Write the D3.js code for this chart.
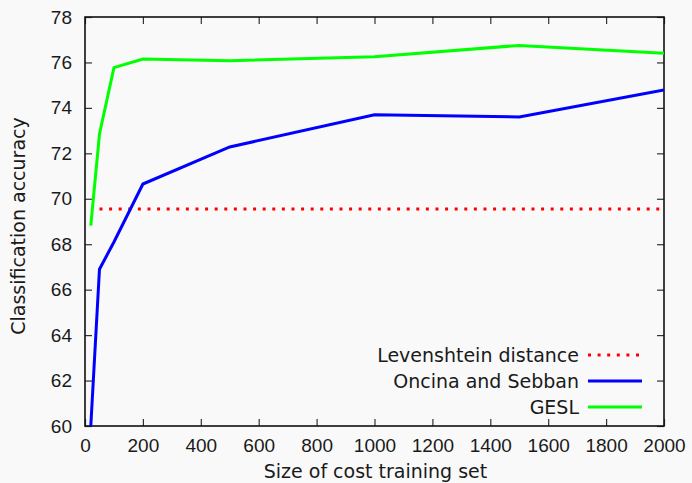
<!DOCTYPE html>
<html>
<head>
<meta charset="utf-8">
<script src="https://cdn.jsdelivr.net/npm/d3@7"></script>
<style>
body { margin:0; background:#f9f9f9; }
svg { display:block; font-family:"DejaVu Sans", sans-serif; }
</style>
</head>
<body>
<div id="chart"></div>
<script>
// Chart size
const W = 692, H = 483;
const margin = {top:17, right:28, bottom:57, left:85};
const width = W - margin.left - margin.right;
const height = H - margin.top - margin.bottom;
const fontSize = "19px";

// Data
const trainSizes = [20, 50, 100, 200, 500, 1000, 1500, 2000];
const gesl = [68.82, 72.85, 75.77, 76.15, 76.08, 76.25, 76.75, 76.40];
const oncina = [60.0, 66.9, 68.1, 70.65, 72.28, 73.70, 73.60, 74.79];
const levenX = [50, 2000];
const leven = [69.55, 69.55];

const xTicks = [0, 200, 400, 600, 800, 1000, 1200, 1400, 1600, 1800, 2000];
const yTicks = [60, 62, 64, 66, 68, 70, 72, 74, 76, 78];

const seriesNames = ["Levenshtein distance", "Oncina and Sebban", "GESL"];
const seriesColors = ["#ff0000", "#0000ff", "#00ff00"];

const svg = d3.select("#chart")
.append("svg")
.attr("width", W)
.attr("height", H);

svg.append("rect").attr("width", W).attr("height", H).attr("fill", "#f9f9f9");

const g = svg.append("g")
.attr("transform", `translate(${margin.left},${margin.top})`);

// scales
const x = d3.scaleLinear().domain([0, 2000]).range([0, width]);
const y = d3.scaleLinear().domain([60, 78]).range([height, 0]);

g.append("clipPath").attr("id", "clip")
.append("rect").attr("width", width).attr("height", height);

// axes (ticks inward, mirrored)
const tickLen = 7;
function styleAxis(sel){
  sel.select(".domain").remove();
  sel.selectAll(".tick line").attr("stroke", "#333").attr("stroke-width", 1.2);
  sel.selectAll(".tick text").attr("fill", "#1a1a1a").attr("font-size", fontSize);
}

g.append("g")
.attr("transform", `translate(0,${height})`)
.call(d3.axisBottom(x).tickValues(xTicks).tickFormat(d3.format("d")).tickSize(-tickLen).tickPadding(13))
.call(styleAxis);

g.append("g")
.call(d3.axisTop(x).tickValues(xTicks).tickSize(-tickLen).tickFormat(""))
.call(styleAxis);

g.append("g")
.call(d3.axisLeft(y).tickValues(yTicks).tickSize(-tickLen).tickPadding(13))
.call(styleAxis);

g.append("g")
.attr("transform", `translate(${width},0)`)
.call(d3.axisRight(y).tickValues(yTicks).tickSize(-tickLen).tickFormat(""))
.call(styleAxis);

// frame
g.append("rect")
.attr("width", width).attr("height", height)
.attr("fill", "none").attr("stroke", "#111").attr("stroke-width", 1.6);

// lines
const line = d3.line().x(d => x(d[0])).y(d => y(d[1]));
const plot = g.append("g").attr("clip-path", "url(#clip)");

plot.append("path")
.datum(d3.zip(levenX, leven))
.attr("d", line)
.attr("fill", "none")
.attr("stroke", seriesColors[0])
.attr("stroke-width", 3)
.attr("stroke-dasharray", "3,6.6");

plot.append("path")
.datum(d3.zip(trainSizes, oncina))
.attr("d", line)
.attr("fill", "none")
.attr("stroke", seriesColors[1])
.attr("stroke-width", 3);

plot.append("path")
.datum(d3.zip(trainSizes, gesl))
.attr("d", line)
.attr("fill", "none")
.attr("stroke", seriesColors[2])
.attr("stroke-width", 3);

// legend
const legend = g.append("g").attr("transform", `translate(${503},${338})`);
seriesNames.forEach((name, i) => {
  const row = legend.append("g").attr("transform", `translate(0,${i*26})`);
  row.append("text")
  .attr("x", -9).attr("y", 0).attr("dy", "0.35em")
  .attr("text-anchor", "end")
  .attr("font-size", fontSize)
  .attr("fill", "#1a1a1a")
  .text(name);
  const l = row.append("line")
  .attr("x1", 0).attr("x2", 54).attr("y1", 0).attr("y2", 0)
  .attr("stroke", seriesColors[i]).attr("stroke-width", 3);
  if (i === 0) l.attr("stroke-dasharray", "3,6.6");
});

// axis labels
svg.append("text")
.attr("x", margin.left + width/2 + 1).attr("y", 478)
.attr("text-anchor", "middle")
.attr("font-size", fontSize).attr("fill", "#1a1a1a")
.text("Size of cost training set");

svg.append("text")
.attr("transform", `translate(25,226) rotate(-90)`)
.attr("text-anchor", "middle")
.attr("font-size", fontSize).attr("fill", "#1a1a1a")
.text("Classification accuracy");
</script>
</body>
</html>
